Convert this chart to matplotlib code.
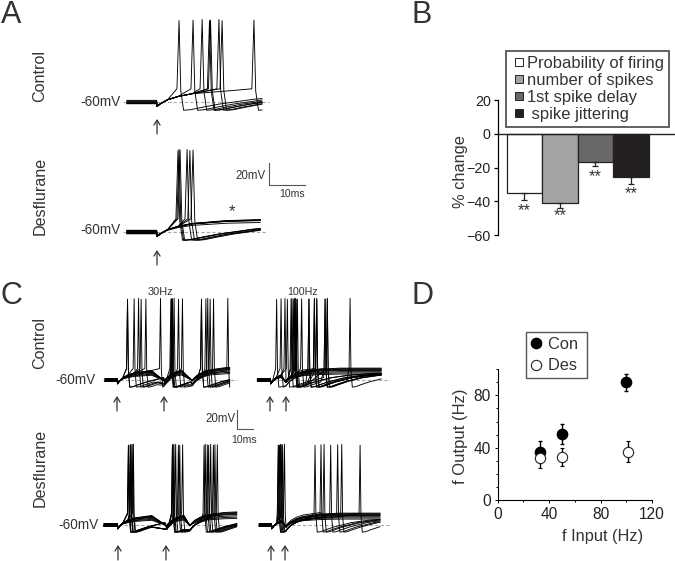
import numpy as np
import matplotlib
matplotlib.use("Agg")
import matplotlib.pyplot as plt
from matplotlib.lines import Line2D

plt.rcParams['font.family'] = ['Liberation Sans', 'DejaVu Sans']

W, H = 675, 561
INK = '#333333'

# ------------------------------------------------------
# Panel B / D values
# ------------------------------------------------------
b_labels = ['Probability of firing', 'number of spikes', '1st spike delay', ' spike jittering']
b_values = [-35, -41, -16.5, -25.5]
b_errors = [4, 3, 2.5, 4]
b_colors = ['#ffffff', '#a3a3a3', '#686868', '#231f20']
b_stars_y = [-38, -41, -18, -28]

d_input_con = [33, 50, 100]
d_output_con = [37, 50.5, 90]
d_err_con = [8, 7.5, 6.5]
d_input_des = [33, 50, 101]
d_output_des = [32, 33, 37]
d_err_des = [7.5, 6.5, 8]

# ------------------------------------------------------
# Spike times in ms after the first stimulus, per volley
# ------------------------------------------------------
a_con_spikes = [[6.3, 10.3, 12.9, 15.0, 15.3, 17.7, 18.6, 27.7]]
a_con_silent = []
a_des_spikes = [[6.0, 6.6, 8.6, 9.4, 10.3, 6.3]]
a_des_silent = [1.0, 1.02, 0.98, 1.04, 0.96, 1.0, 0.8]

c1_stims = [0, 27.6, 44]
c1_spikes = [[5.9, 9.8, 12.4, 13.9, 16.7, 25.3],
             [31.4, 32.4, 33.3, 35.9, 38.2, 32.0, 31.8],
             [49.4, 52.0, 53.1, 54.5, 56.5, 64.9]]
c2_stims = [0, 9.0]
c2_spikes = [[3.5, 6.1, 8.4, 9.8, 12.0, 12.5, 13.3, 14.1, 14.7, 15.7, 18.2, 46.7],
             [22.5, 25.7, 27.1, 32.0, 33.3, 14.2, 15.0]]
c3_stims = [0, 28.8, 42.5]
c3_spikes = [[6.3, 7.6, 9.2, 6.6, 7.9, 8.9],
             [32.2, 33.1, 34.1, 35.7, 38.2, 32.6, 36.5],
             [50.8, 52.7, 54.7, 56.3, 58.6, 51.5, 53.5, 57.2]]
c4_stims = [0, 8.4]
c4_spikes = [[3.9, 5.9, 7.5, 4.6, 6.4, 5.2],
             [25.5, 29.0, 30.8, 34.7, 38.8, 41.2, 52.0]]
c_silent = [0.85, 0.95, 0.8, 1.0, 0.9, 0.6, 0.7, 0.5]

baseline_jitter = [-1.5, -0.9, -0.3, 0.3, 0.9, 1.5]

rise_ms = [0, 0.4, 1, 3, 6, 10, 20, 32]
rise_mv = [-4, -3, -1.5, 2, 5, 7.5, 10, 11]
ahp_ms = [0, 2, 5, 10, 20, 30, 45]
ahp_mv = [-7.5, -7, -5, -2, 2.5, 5, 7]


def sweep(stims, spikes, t_start, t_end, jitter, gain, thresh, peak):
    events = [(t, 'stim') for t in stims] + [(t, 'spike') for t in spikes]
    events.sort()
    ts, vs = [t_start, stims[0] - 0.1], [jitter, jitter]
    for i, (t, kind) in enumerate(events):
        stop = events[i + 1][0] if i + 1 < len(events) else t_end
        if kind == 'spike':
            ts += [t - 0.6, t, t + 0.5]
            vs += [thresh, peak, thresh - 2]
            start, dts, dvs = t + 1.3, ahp_ms, ahp_mv
            carry, scale = 0.0, 1.0
        else:
            start, dts, dvs = t, rise_ms, rise_mv
            carry, scale = 0.3 * vs[-1] if i > 0 else 0.0, gain
        next_spike = i + 1 < len(events) and events[i + 1][1] == 'spike'
        for dt, dv in zip(dts, dvs):
            if start + dt >= stop - (0.8 if next_spike else 0):
                break
            ts.append(start + dt)
            vs.append(carry + scale * dv)
        if i + 1 == len(events):
            dv = np.interp(stop - start, dts, dvs)
            ts.append(stop)
            vs.append(carry + scale * dv)
    return ts, vs


def trace_axes(fig, x0, y0, px_ms, px_mv):
    ax = fig.add_axes([0, 0, 1, 1], facecolor='none')
    ax.set_xlim(-x0 / px_ms, (W - x0) / px_ms)
    ax.set_ylim((y0 - H) / px_mv, y0 / px_mv)
    ax.axis('off')
    return ax


def draw_traces(ax, stims, volleys, silent, t_start, t_end, dash_end, peak, thresh=12):
    ax.plot([t_start - 1, dash_end], [0, 0], color='#aaaaaa', lw=0.8, ls=(0, (3, 2)))
    n = max(len(v) for v in volleys)
    for i in range(n):
        spikes = [v[i % len(v)] for v in volleys]
        ts, vs = sweep(stims, spikes, t_start, t_end,
                       baseline_jitter[i % len(baseline_jitter)], 1.0, thresh, peak + (i % 3) * 0.5)
        ax.plot(ts, vs, color='black', lw=0.65, solid_joinstyle='round')
    for i, g in enumerate(silent):
        ts, vs = sweep(stims, [], t_start, t_end,
                       baseline_jitter[i % len(baseline_jitter)], g, thresh, peak)
        ax.plot(ts, vs, color='black', lw=0.65, solid_joinstyle='round')


fig = plt.figure(figsize=(W / 100, H / 100), dpi=100, facecolor='white')

# ------------------------------------------------------
# Panel A and C traces (ms / mV relative to -60 mV)
# ------------------------------------------------------
ax = trace_axes(fig, 157, 102, 3.5, 1.1)
draw_traces(ax, [0], a_con_spikes, a_con_silent, -8.6, 30, 32, 74)
ax = trace_axes(fig, 157, 232, 3.5, 1.1)
draw_traces(ax, [0], a_des_spikes, a_des_silent, -8.6, 29.5, 31, 74)

ax = trace_axes(fig, 117.5, 380, 1.7, 0.95)
draw_traces(ax, c1_stims, c1_spikes, c_silent, -7.3, 66, 70, 85)
ax = trace_axes(fig, 270.7, 380, 1.7, 0.95)
draw_traces(ax, c2_stims, c2_spikes, c_silent, -7.8, 65, 70, 85)
ax = trace_axes(fig, 117.7, 525, 1.7, 0.95)
draw_traces(ax, c3_stims, c3_spikes, c_silent, -8, 70, 70, 84)
ax = trace_axes(fig, 271.7, 525, 1.7, 0.95)
draw_traces(ax, c4_stims, c4_spikes, c_silent, -7.3, 63.7, 70, 84)

# ------------------------------------------------------
# Panel B
# ------------------------------------------------------
axb = fig.add_axes([497.7 / W, (H - 235.3) / H, (W - 497.7) / W, 135.3 / H], facecolor='none')
pos = np.arange(len(b_values))
axb.bar(pos, b_values, width=1.0, color=b_colors, edgecolor='#222222', linewidth=0.9,
        yerr=[b_errors, [0] * len(b_errors)],
        error_kw=dict(ecolor='#222222', elinewidth=0.9, capsize=2, capthick=0.9))
axb.axhline(0, color='#222222', lw=1.0)
axb.set_xlim(-0.755, 4.24)
axb.set_ylim(-60, 20)
axb.set_yticks([20, 0, -20, -40, -60])
axb.set_xticks([])
axb.tick_params(axis='y', labelsize=10.3, length=3, width=0.9, pad=2, labelcolor='#222222')
for side in ['top', 'right', 'bottom']:
    axb.spines[side].set_visible(False)
axb.spines['left'].set_linewidth(0.9)
for p, y in zip(pos, b_stars_y):
    axb.text(p, y - 7.5, '**', ha='center', va='center', fontsize=12, color=INK)
handles = [Line2D([], [], marker='s', ls='', mfc=c, mec='#222222', mew=0.7, ms=5.3) for c in b_colors]
leg = axb.legend(handles, b_labels, loc='upper left', bbox_to_anchor=(505.7 / W, (H - 51) / H),
                 bbox_transform=fig.transFigure, fontsize=11.9, frameon=True, fancybox=False,
                 edgecolor='#555555', framealpha=1, borderaxespad=0, borderpad=0.3,
                 handlelength=1.0, handletextpad=0.0, labelspacing=0.12,
                 labelcolor=INK)
leg.get_frame().set_linewidth(1.3)

# ------------------------------------------------------
# Panel D
# ------------------------------------------------------
axd = fig.add_axes([497.7 / W, (H - 500.3) / H, 154.3 / W, 131.3 / H], facecolor='none')
axd.errorbar(d_input_con, d_output_con, yerr=d_err_con, fmt='o', color='black', ms=7.4,
             mec='black', ecolor='black', elinewidth=1, capsize=1.5, label='Con')
axd.errorbar(d_input_des, d_output_des, yerr=d_err_des, fmt='o', color='black', ms=7.4,
             mfc='white', mec='#222222', mew=0.8, ecolor='black', elinewidth=1, capsize=1.5,
             label='Des')
axd.set_xlim(0, 120)
axd.set_ylim(0, 100)
axd.set_xticks([0, 40, 80, 120])
axd.set_xticks([20, 60, 100], minor=True)
axd.set_yticks([0, 40, 80])
axd.set_yticks(np.arange(0, 101, 10), minor=True)
axd.tick_params(axis='both', which='major', labelsize=11.2, length=2, width=0.7, pad=3, labelcolor='#222222')
axd.tick_params(axis='both', which='minor', length=1.5, width=0.7)
for side in ['top', 'right']:
    axd.spines[side].set_visible(False)
axd.spines['left'].set_linewidth(0.8)
axd.spines['bottom'].set_linewidth(0.8)
d_handles = [Line2D([], [], marker='o', ls='', color='black', ms=7.4),
             Line2D([], [], marker='o', ls='', mfc='white', mec='#222222', mew=0.8, ms=7.4)]
leg = axd.legend(d_handles, ['Con ', 'Des '], loc='upper left', bbox_to_anchor=(525.7 / W, (H - 332) / H),
                 bbox_transform=fig.transFigure, fontsize=11.8, frameon=True, fancybox=False,
                 edgecolor='#555555', framealpha=1, borderaxespad=0, borderpad=0.3,
                 handletextpad=0.35, labelspacing=0.4, handlelength=0.7, labelcolor=INK)
leg.get_frame().set_linewidth(1.0)

# ------------------------------------------------------
# Labels, arrows, scale bars (overlay in picture pixels)
# ------------------------------------------------------
canvas = fig.add_axes([0, 0, 1, 1], facecolor='none', zorder=10)
canvas.set_xlim(0, W)
canvas.set_ylim(H, 0)
canvas.axis('off')

for letter, x, y in [('A', 1, 15), ('B', 412, 15), ('C', 1, 296), ('D', 411, 296)]:
    canvas.text(x, y, letter, fontsize=22, color=INK, ha='left', va='center')

for label, y in [('Control', 76), ('Desflurane', 196), ('Control', 343), ('Desflurane', 468)]:
    canvas.text(40, y, label, fontsize=11.6, color=INK, rotation=90, ha='center', va='center')

for x, y in [(121, 102), (121, 230), (96, 380), (99, 525)]:
    canvas.text(x, y, '-60mV', fontsize=9.8, color=INK, ha='right', va='center')

for x, y, s, fs in [(235, 176, '20mV', 8.3), (279, 194, '10ms', 7.6), (205, 419, '20mV', 8.3),
                    (231, 440, '10ms', 7.6), (148, 292, '30Hz', 7.9), (287, 292, '100Hz', 7.7)]:
    canvas.text(x, y, s, fontsize=fs, color=INK, ha='left', va='center')

canvas.text(232, 212, '*', fontsize=12, color=INK, ha='center', va='center')

arrow_xs = [157, 157, 117, 164, 270, 286, 118, 166, 271, 285]
arrow_tips = [119, 250, 396, 396, 396, 396, 545, 545, 545, 545]
for x, tip in zip(arrow_xs, arrow_tips):
    canvas.annotate('', xy=(x, tip), xytext=(x, tip + 15),
                    arrowprops=dict(arrowstyle='->,head_width=0.22,head_length=0.35', color=INK,
                                    lw=0.9, shrinkA=0, shrinkB=0))

canvas.plot([269, 269, 305], [163, 185, 185], color='#555555', lw=0.8)
canvas.plot([236.5, 236.5, 253], [410, 429, 429], color='#555555', lw=0.8)

canvas.text(460, 172, '% change', fontsize=11.8, color=INK, rotation=90, ha='center', va='center')
canvas.text(460, 436, 'f Output (Hz)', fontsize=12, color=INK, rotation=90, ha='center', va='center')
canvas.text(603, 537, 'f Input (Hz)', fontsize=11.8, color=INK, ha='center', va='center')

fig.savefig('out.png', dpi=100)
